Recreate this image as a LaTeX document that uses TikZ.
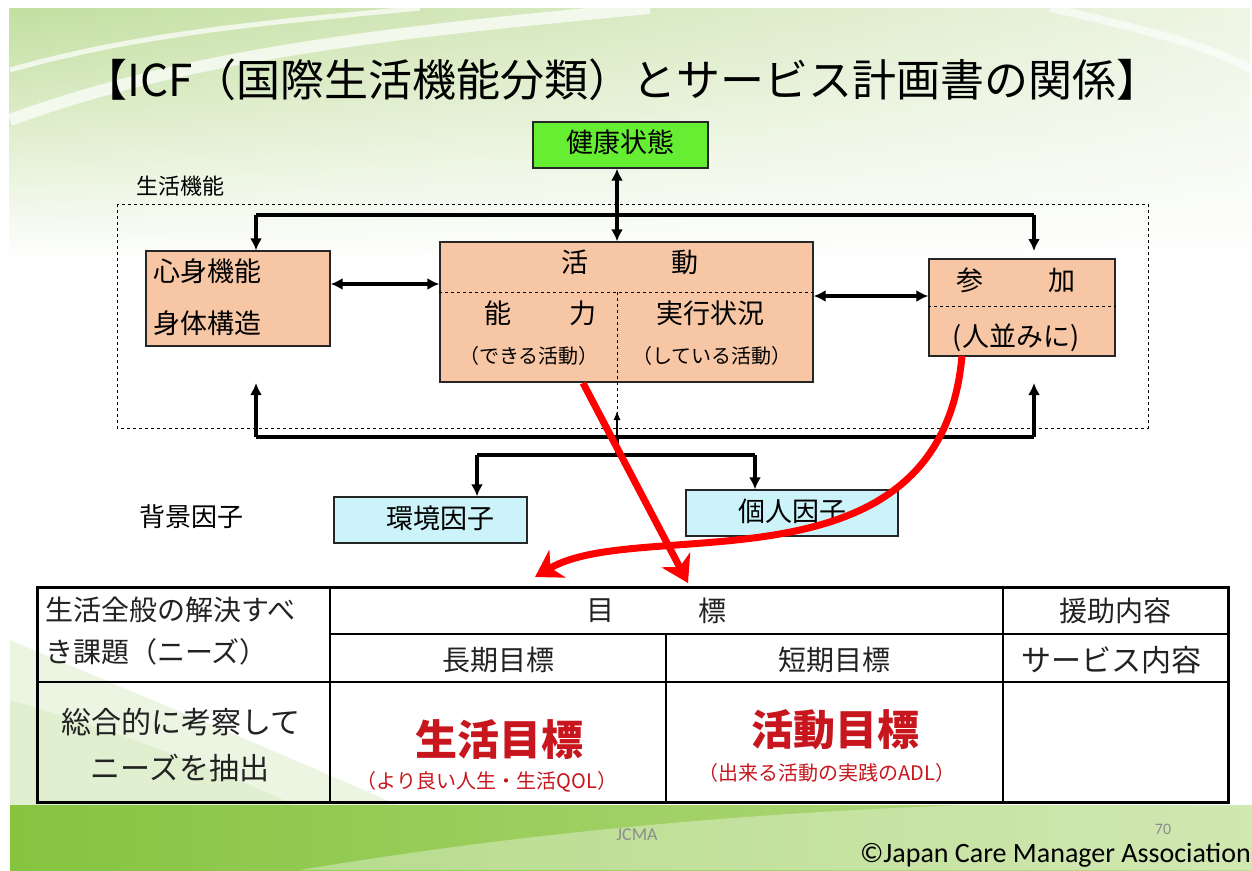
\documentclass[tikz,border=0pt]{standalone}
\usepackage{fontspec}
\newfontfamily\jp{Noto Sans CJK JP}
\newfontfamily\calfont{Carlito}
\usetikzlibrary{arrows.meta,fadings}
\definecolor{peach}{HTML}{F7C6A5}
\definecolor{kgreen}{HTML}{66EE33}
\definecolor{lcyan}{HTML}{CCF3F9}
\definecolor{dred}{HTML}{C8161E}
\definecolor{bred}{HTML}{FF0000}
\definecolor{bgA}{HTML}{C3DFA0}
\definecolor{bgB}{HTML}{EEF5E4}
\definecolor{bgC}{HTML}{86C440}
\definecolor{bgD}{HTML}{E4F1D4}
\definecolor{bgE}{HTML}{B9DC88}
\definecolor{txtgray}{HTML}{222222}
\newcommand\fsz[1]{\fontsize{#1}{#1}\selectfont}
\tikzset{
  box/.style={draw=black!85, line width=1.3pt, inner sep=0pt},
  txt/.style={inner sep=0pt, font=\jp\fsz{27}},
  ttxt/.style={inner sep=0pt, font=\jp\fsz{28}, text=txtgray},
  arr/.style={line width=3.5pt, -{Latex[length=12pt,width=12pt]}},
  darr/.style={line width=3.5pt, {Latex[length=12pt,width=12pt]}-{Latex[length=12pt,width=12pt]}},
  redarr/.style={draw=bred, line width=7pt, -{Stealth[length=26pt,width=32pt,inset=8pt]}},
}
\begin{document}
\begin{tikzpicture}[x=1pt,y=-1pt]
\useasboundingbox (0,0) rectangle (1252,870);
% background
\fill[white] (0,0) rectangle (1252,870);
\shade[left color=bgA, right color=bgB, path fading=south] (10,8) rectangle (1252,260);
\draw[white, line width=12pt, opacity=0.7] (10,120) .. controls (200,50) and (420,30) .. (650,8);
\draw[white, line width=5pt, opacity=0.7] (10,70) .. controls (150,30) and (300,20) .. (420,8);
\draw[white, line width=8pt, opacity=0.6] (1050,8) .. controls (1150,30) and (1220,50) .. (1252,70);
\fill[bgA, opacity=0.3] (10,640) .. controls (150,700) and (350,780) .. (540,870) -- (10,870) -- cycle;
\fill[bgA, opacity=0.25] (10,700) .. controls (150,740) and (300,800) .. (420,870) -- (10,870) -- cycle;
\shade[left color=bgC, middle color=bgD, right color=bgE] (10,805) rectangle (1252,870);
\fill[white, opacity=0.35] (300,870) .. controls (600,820) and (900,800) .. (1252,800) -- (1252,870) -- cycle;

% title
\node[inner sep=0pt, font=\jp\fsz{44}] (title) at (622,80) {【ICF（国際生活機能分類）とサービス計画書の関係】};

% boxes
\node[box, fill=kgreen, minimum width=175pt, minimum height=46pt] (kenko) at (620.5,145) {};
\node[txt] (kenkot) at (620,142) {健康状態};
\node[inner sep=0pt, font=\jp\fsz{22}] (seikatsu) at (180,186) {生活機能};
\draw[dashed, line width=0.9pt] (117,204) rectangle (1148,428);

\node[box, fill=peach, minimum width=184pt, minimum height=95pt] (shin) at (238,298.5) {};
\node[txt, anchor=west] (shin1) at (153,271) {心身機能};
\node[txt, anchor=west] (shin2) at (153,323) {身体構造};

\node[box, fill=peach, minimum width=373pt, minimum height=140pt] (kat) at (626.5,312) {};
\draw[dashed, line width=0.9pt] (kat.west |- 0,292) -- (kat.east |- 0,292);
\node[txt] (kat1) at (575,262) {活};
\node[txt] (kat2) at (685,262) {動};
\node[txt] (nou1) at (498,313) {能};
\node[txt] (nou2) at (583,313) {力};
\node[txt] (jikko) at (710,313) {実行状況};
\node[inner sep=0pt, font=\jp\fsz{20}] (dekiru) at (529,356) {（できる活動）};
\node[inner sep=0pt, font=\jp\fsz{20}] (shiteiru) at (712,356) {（している活動）};

\node[box, fill=peach, minimum width=186pt, minimum height=97pt] (sanka) at (1022,307.5) {};
\draw[dashed, line width=0.9pt] (sanka.west |- 0,306) -- (sanka.east |- 0,306);
\node[txt] (sanka1) at (970,280) {参};
\node[txt] (sanka2) at (1062,280) {加};
\node[txt] (hitonami) at (1016,338) {(人並みに)};

\node[inner sep=0pt, font=\jp\fsz{26}] (haikei) at (191,517) {背景因子};
\node[box, fill=lcyan, minimum width=193pt, minimum height=46pt] (kankyo) at (430.5,520) {};
\node[txt] (kankyot) at (440,518) {環境因子};
\node[box, fill=lcyan, minimum width=212pt, minimum height=46pt] (kojin) at (792,513) {};
\node[txt] (kojint) at (792,511) {個人因子};

% coordinates for connectors
\coordinate (tl) at (256,215);
\coordinate (tr) at (1034,215);
\coordinate (bl) at (256,437);
\coordinate (br) at (1034,437);
\coordinate (bm) at (617,437);
\coordinate (bm2) at (617,455);
\coordinate (fl) at (477,455);
\coordinate (fr) at (755,455);
\coordinate (shinup) at (256,383);
\coordinate (sankaup) at (1034,383);
\coordinate (sankatop) at (1034,251);
\coordinate (midup) at (617,411);

% black connectors
\draw[darr] (kenko.south -| 617,0) -- (kat.north -| 617,0);
\draw[line width=3.5pt, line join=miter] (tl) -- (tr);
\draw[arr] (tl) -- (shin.north -| tl);
\draw[arr] (tr) -- (sankatop);
\draw[darr] (shin.east |- 0,284) -- (kat.west |- 0,284);
\draw[darr] (kat.east |- 0,296) -- (sanka.west |- 0,296);
\draw[dashed, line width=0.9pt] (617,292) -- (bm);
\draw[line width=1.2pt, -{Latex[length=9pt,width=7pt]}] (bm) -- (midup);
\draw[line width=3.5pt] (bl) -- (br);
\draw[arr] (bl) -- (shinup);
\draw[arr] (br) -- (sankaup);
\draw[line width=3.5pt] (bm) -- (bm2);
\draw[line width=3.5pt] (fl) -- (fr);
\draw[arr] (fl) -- (kankyo.north -| fl);
\draw[arr] (fr) -- (kojin.north -| fr);

% table
\draw[line width=3pt] (37,587) rectangle (1228,802);
\draw[line width=1.2pt] (330,587) -- (330,802);
\draw[line width=1.2pt] (666,634) -- (666,802);
\draw[line width=1.2pt] (1003,587) -- (1003,802);
\draw[line width=1.2pt] (330,634) -- (1228,634);
\draw[line width=1.2pt] (37,682) -- (1228,682);
\node[ttxt, anchor=west] (need1) at (45,610) {生活全般の解決すべ};
\node[ttxt, anchor=west] (need2) at (45,652) {き課題（ニーズ）};
\node[ttxt] (moku1) at (600,611) {目};
\node[ttxt] (moku2) at (712,611) {標};
\node[ttxt] (enjo) at (1115,611) {援助内容};
\node[ttxt] (choki) at (498,660) {長期目標};
\node[ttxt] (tanki) at (834,660) {短期目標};
\node[ttxt, font=\jp\fsz{30}] (service) at (1111,660) {サービス内容};
\node[ttxt, font=\jp\fsz{30}] (sogo1) at (181,722) {総合的に考察して};
\node[ttxt, font=\jp\fsz{30}] (sogo2) at (180,768) {ニーズを抽出};
\node[inner sep=0pt, font=\jp\bfseries\fsz{42}, text=dred] (seimoku) at (499,740) {生活目標};
\node[inner sep=0pt, font=\jp\fsz{20}, text=dred] (seimoku2) at (487,782) {（より良い人生・生活QOL）};
\node[inner sep=0pt, font=\jp\bfseries\fsz{42}, text=dred] (katmoku) at (835,730) {活動目標};
\node[inner sep=0pt, font=\jp\fsz{20}, text=dred] (katmoku2) at (827,773) {（出来る活動の実践のADL）};

% red arrows
\coordinate (r1s) at (583,383);
\coordinate (r1e) at (688,583);
\coordinate (r2s) at (962,356);
\coordinate (r2e) at (535,577);
\draw[redarr] (r1s) -- (r1e);
\draw[redarr] (r2s) .. controls (940,600) and (640,515) .. (r2e);

% footer
\node[inner sep=0pt, font=\calfont\fsz{18}, text=black!45] (jcma) at (637,835) {JCMA};
\node[inner sep=0pt, font=\calfont\fsz{16}, text=black!45] (page) at (1163,829) {70};
\node[inner sep=0pt, font=\calfont\fsz{28}, anchor=east] (copy) at (1251,855) {©Japan Care Manager Association};
\end{tikzpicture}
\end{document}
